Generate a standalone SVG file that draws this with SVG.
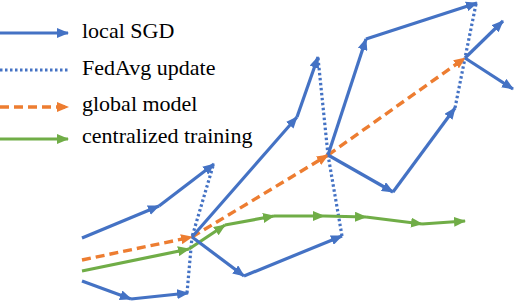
<svg xmlns="http://www.w3.org/2000/svg" width="516" height="304" viewBox="0 0 516 304">
<defs>
<marker id="ab" markerUnits="userSpaceOnUse" markerWidth="12" markerHeight="10" refX="11" refY="5" orient="auto"><path d="M0,0 L12,5 L0,10 z" fill="#4472C4"/></marker>
<marker id="ao" markerUnits="userSpaceOnUse" markerWidth="12" markerHeight="10" refX="11" refY="5" orient="auto"><path d="M0,0 L12,5 L0,10 z" fill="#ED7D31"/></marker>
<marker id="ag" markerUnits="userSpaceOnUse" markerWidth="12" markerHeight="10" refX="11" refY="5" orient="auto"><path d="M0,0 L12,5 L0,10 z" fill="#70AD47"/></marker>
</defs>
<style>
.sgd{stroke:#4472C4;stroke-width:3.2;fill:none;marker-end:url(#ab)}
.fed{stroke:#4472C4;stroke-width:3.2;fill:none;stroke-dasharray:2.5 2.5}
.glob{stroke:#ED7D31;stroke-width:3.4;fill:none;stroke-dasharray:9 5;marker-end:url(#ao)}
.cen{stroke:#70AD47;stroke-width:3.2;fill:none;marker-end:url(#ag)}
.lbl{font-family:'Liberation Serif',serif;font-size:22px;fill:#000}
</style>
<rect width="516" height="304" fill="#fff"/>
<g id="legend">
<line class="sgd" x1="0" y1="33" x2="68" y2="33"/>
<text class="lbl" x="82" y="38">local SGD</text>
<line class="fed" x1="0" y1="70" x2="68" y2="70"/>
<text class="lbl" x="82" y="75">FedAvg update</text>
<line class="glob" x1="0" y1="107" x2="68" y2="107" stroke-dasharray="7 4"/>
<text class="lbl" x="82" y="111">global model</text>
<line class="cen" x1="0" y1="139" x2="68" y2="139"/>
<text class="lbl" x="82" y="143">centralized training</text>
</g>
<g id="connectors">
<line class="fed" x1="213" y1="166" x2="192" y2="237"/>
<line class="fed" x1="187" y1="293" x2="192" y2="237"/>
<line class="fed" x1="318" y1="58" x2="328" y2="155"/>
<line class="fed" x1="342" y1="236" x2="328" y2="155"/>
<line class="fed" x1="476" y1="4" x2="465" y2="58"/>
<line class="fed" x1="455" y1="108" x2="465" y2="58"/>
<line class="glob" x1="82" y1="260" x2="192" y2="237"/>
<line class="glob" x1="192" y1="237" x2="328" y2="155"/>
<line class="glob" x1="328" y1="155" x2="465" y2="58"/>
<line class="cen" x1="82" y1="271" x2="189" y2="249"/>
<line class="cen" x1="189" y1="249" x2="225" y2="225"/>
<line class="cen" x1="225" y1="225" x2="274" y2="216"/>
<line class="cen" x1="274" y1="216" x2="324" y2="216"/>
<line class="cen" x1="324" y1="216" x2="366" y2="217"/>
<line class="cen" x1="366" y1="217" x2="422" y2="224"/>
<line class="cen" x1="422" y1="224" x2="465" y2="221"/>
<line class="sgd" x1="82" y1="238" x2="159" y2="206"/>
<line class="sgd" x1="159" y1="206" x2="214" y2="164"/>
<line class="sgd" x1="82" y1="281" x2="131" y2="299"/>
<line class="sgd" x1="131" y1="299" x2="188" y2="293"/>
<line class="sgd" x1="192" y1="237" x2="297" y2="117"/>
<line class="sgd" x1="297" y1="117" x2="318" y2="57"/>
<line class="sgd" x1="192" y1="237" x2="244" y2="276"/>
<line class="sgd" x1="244" y1="276" x2="342" y2="236"/>
<line class="sgd" x1="328" y1="155" x2="366" y2="39"/>
<line class="sgd" x1="366" y1="39" x2="477" y2="3"/>
<line class="sgd" x1="328" y1="155" x2="393" y2="192"/>
<line class="sgd" x1="393" y1="192" x2="455" y2="108"/>
<line class="sgd" x1="465" y1="58" x2="503" y2="21"/>
<line class="sgd" x1="465" y1="58" x2="513" y2="89"/>
</g>
</svg>
